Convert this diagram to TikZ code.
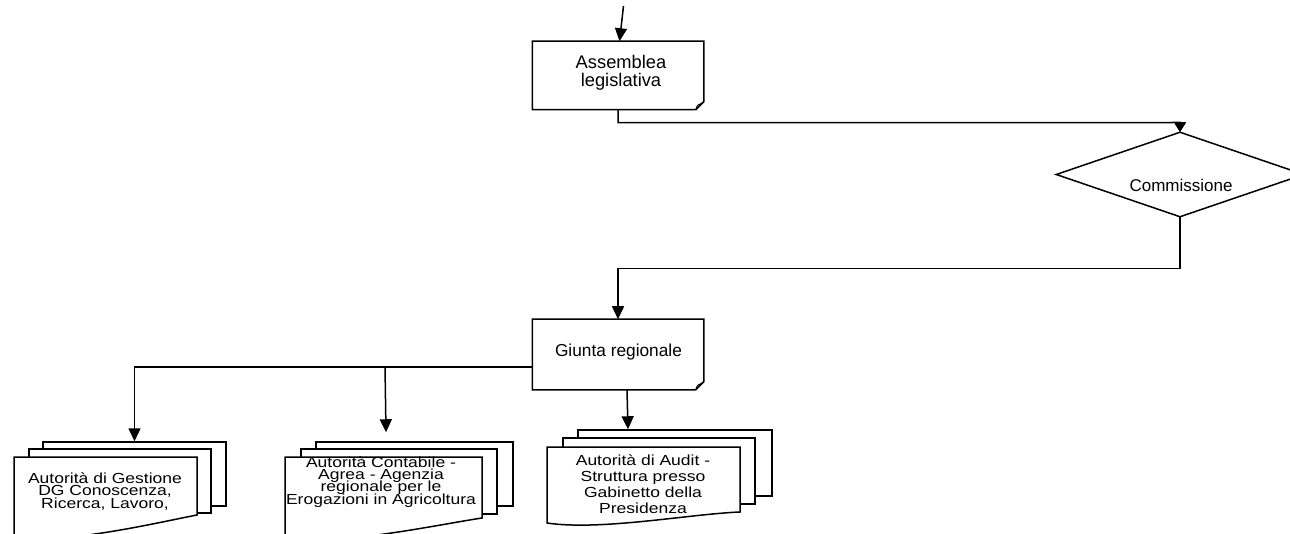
\documentclass[tikz,border=0pt]{standalone}
\usepackage{fontspec}
\setmainfont{Liberation Sans}
\newfontfamily\docfont[FakeStretch=1.2]{Liberation Sans}
\usetikzlibrary{arrows.meta,calc}
\newcommand{\tightlines}{\lineskiplimit=-100pt\relax\lineskip=0pt\relax}
\begin{document}
\begin{tikzpicture}[x=1pt,y=-1pt,line width=1.5pt,line join=miter,
  lbl/.style={font=\fontsize{17}{18}\selectfont\tightlines, align=center, inner sep=0pt},
  doclbl/.style={align=center, inner sep=0pt, font=\docfont\fontsize{14.6}{#1}\selectfont\tightlines},
  hold/.style={draw=none, inner sep=0pt, minimum width=#1},
  arr/.style={-{Triangle[length=13pt,width=12pt]}},
  arrs/.style={-{Triangle[length=10pt,width=12pt]}},
  page/.style={draw, fill=white, line width=1.5pt, inner sep=0pt},
  fold/.style={line width=1pt}]
\useasboundingbox (0,0) rectangle (1290,534);
\clip (0,0) rectangle (1290,534);

% ---------- Assemblea legislativa ----------
\node[hold=170pt, minimum height=67pt] (assem) at (618,75.5) {};
\draw (assem.north west) -- (assem.north east) -- ([yshift=8pt]assem.south east)
      -- ([xshift=-8pt]assem.south east) -- (assem.south west) -- cycle;
\draw[fold] ([xshift=-8pt]assem.south east) .. controls +(1.5,-4.5) .. ([xshift=-3pt,yshift=6pt]assem.south east) -- ([yshift=8pt]assem.south east);
\node[lbl, font=\fontsize{18.3}{18}\selectfont] (assemT) at (621,72.5) {Assemblea\\legislativa};

% ---------- Commissione ----------
\node[hold=246pt, minimum height=83pt] (comm) at (1180,174.5) {};
\draw (comm.north) -- (comm.east) -- (comm.south) -- (comm.west) -- cycle;
\node[lbl] (commT) at (1181,185) {Commissione};

% ---------- Giunta regionale ----------
\node[hold=170pt, minimum height=69pt] (giunta) at (618,354.5) {};
\draw (giunta.north west) -- (giunta.north east) -- ([yshift=8pt]giunta.south east)
      -- ([xshift=-8pt]giunta.south east) -- (giunta.south west) -- cycle;
\draw[fold] ([xshift=-8pt]giunta.south east) .. controls +(1.5,-4.5) .. ([xshift=-3pt,yshift=6pt]giunta.south east) -- ([yshift=8pt]giunta.south east);
\node[lbl, font=\fontsize{17.3}{18}\selectfont] (giuntaT) at (618.5,352.5) {Giunta regionale};

% ---------- Document 1 ----------
\node[page, minimum width=183pt, minimum height=64pt] (doc1c) at (134.5,474) {};
\node[page, minimum width=182pt, minimum height=64pt] (doc1b) at (120,481) {};
\draw[page] (14,457) -- (197,457) -- (197,515) .. controls (160,522) and (69,544) .. (14,538) -- cycle;
\node[doclbl=12.6] (doc1T) at (105,491.5)
  {Autorità di Gestione\\DG Conoscenza,\\Ricerca, Lavoro,};

% ---------- Document 2 ----------
\node[page, minimum width=197pt, minimum height=64pt] (doc2c) at (414.5,474) {};
\node[page, minimum width=196pt, minimum height=65pt] (doc2b) at (399,481.5) {};
\draw[page] (285,457) -- (482,457) -- (482,518) .. controls (442,524) and (344,545) .. (285,540) -- cycle;
\node[doclbl=12.2] (doc2T) at (381,482)
  {Autorità Contabile -\\Agrea - Agenzia\\regionale per le\\Erogazioni in Agricoltura};

% ---------- Document 3 ----------
\node[page, minimum width=194pt, minimum height=66pt] (doc3c) at (675,463) {};
\node[page, minimum width=192pt, minimum height=66pt] (doc3b) at (659,471) {};
\draw[page] (547,447) -- (740,447) -- (740,512) .. controls (690,514) and (600,531) .. (547,523) -- cycle;
\node[doclbl=16] (doc3T) at (643,484.3)
  {Autorità di Audit -\\Struttura presso\\Gabinetto della\\Presidenza};

% ---------- Connectors ----------
\coordinate (start) at (623.5,6);
\draw[arr] (start) -- ([xshift=1.5pt]assem.north);
\coordinate (bendA) at (1180,122.5);
\draw[arrs] (assem.south) -- ++(0,13) -- (bendA) -- (comm.north);
\draw[arr] (comm.south) -- ++(0,52) -| (giunta.north);
\draw[arr] ([yshift=-12.5pt]giunta.west) -| (doc1c.north);
\draw[arr] ($(doc2c.north)+(-29.5,-75)$) -- ($(doc2c.north)+(-28.5,-9)$);
\draw[arr] ([xshift=9pt]giunta.south) -- ($(doc3c.north)+(-47,0)$);
\end{tikzpicture}
\end{document}
